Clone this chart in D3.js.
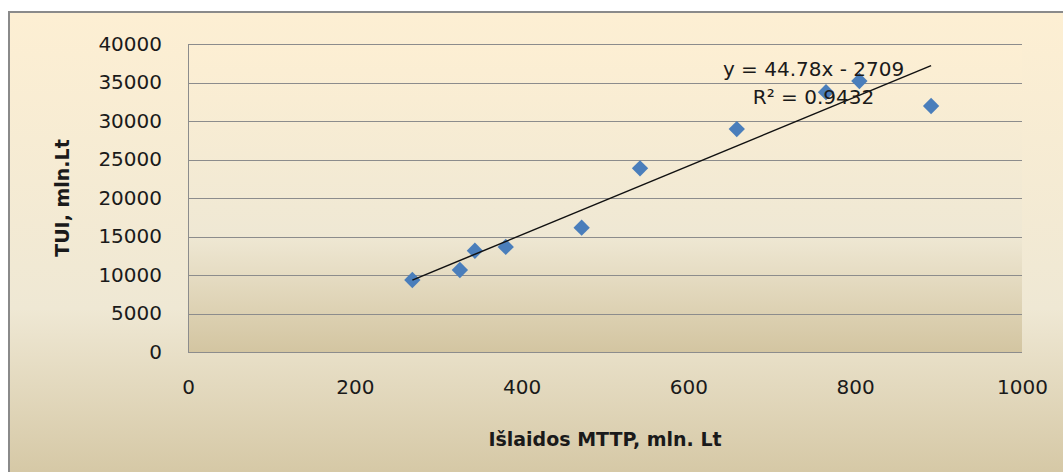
<!DOCTYPE html>
<html>
<head>
<meta charset="utf-8">
<script src="https://cdn.jsdelivr.net/npm/d3@7"></script>
<style>
  body { margin: 0; background: #fff; }
  text { font-family: "DejaVu Sans", sans-serif; fill: #1a1a1a; }
</style>
</head>
<body>
<div id="okvir"></div>
<script>
// podaci
const islaidos = [269, 326, 344, 381, 472, 542, 658, 765, 805, 891]
const tui = [9350, 10650, 13150, 13650, 16150, 23850, 28950, 33750, 35200, 31950]
const xTicks = [0, 200, 400, 600, 800, 1000]
const yTicks = [0, 5000, 10000, 15000, 20000, 25000, 30000, 35000, 40000]
const trend = { slope: 44.78, intercept: -2709, r2: "0.9432" }

const dataset = islaidos.map((x, i) => ({ x: x, y: tui[i] }))

let dimenzije = {
  sirina: 1063,
  visina: 472,
  margine: { top: 44, right: 41, bottom: 120, left: 188 },
}
dimenzije.grSirina = dimenzije.sirina - dimenzije.margine.left - dimenzije.margine.right
dimenzije.grVisina = dimenzije.visina - dimenzije.margine.top - dimenzije.margine.bottom

const okvir = d3.select("#okvir")
  .append("svg")
    .attr("width", dimenzije.sirina)
    .attr("height", dimenzije.visina)

// gradijenti (pergament)
const defs = okvir.append("defs")
function gradijent(id) {
  const g = defs.append("linearGradient")
    .attr("id", id)
    .attr("x1", 0).attr("y1", 0).attr("x2", 0).attr("y2", 1)
  g.append("stop").attr("offset", "0%").attr("stop-color", "#fdefd3")
  g.append("stop").attr("offset", "62%").attr("stop-color", "#efe8d4")
  g.append("stop").attr("offset", "100%").attr("stop-color", "#d3c5a1")
}
gradijent("pozadina")
gradijent("podrucje")

// okvir grafikona
okvir.append("rect")
  .attr("x", 9).attr("y", 12)
  .attr("width", dimenzije.sirina)
  .attr("height", dimenzije.visina + 6)
  .attr("fill", "url(#pozadina)")
okvir.append("path")
  .attr("d", `M9,${dimenzije.visina} V12 H${dimenzije.sirina}`)
  .attr("fill", "none")
  .attr("stroke", "#8a8a8a")
  .attr("stroke-width", 2)

const granice = okvir.append("g")
  .attr("transform", `translate(${dimenzije.margine.left},${dimenzije.margine.top})`)

granice.append("rect")
  .attr("width", dimenzije.grSirina)
  .attr("height", dimenzije.grVisina)
  .attr("fill", "url(#podrucje)")

// skale
const xSkala = d3.scaleLinear()
  .domain([0, 1000])
  .range([0, dimenzije.grSirina])

const ySkala = d3.scaleLinear()
  .domain([0, 40000])
  .range([dimenzije.grVisina, 0])

// mreza
granice.append("g")
  .selectAll("line")
  .data(yTicks)
  .join("line")
    .attr("x1", 0)
    .attr("x2", dimenzije.grSirina)
    .attr("y1", d => Math.round(ySkala(d)) + 0.5)
    .attr("y2", d => Math.round(ySkala(d)) + 0.5)
    .attr("stroke", "#8c8c8c")
    .attr("stroke-width", 1)

granice.append("line")
  .attr("x1", 0.5).attr("x2", 0.5)
  .attr("y1", 0).attr("y2", dimenzije.grVisina)
  .attr("stroke", "#8c8c8c")

// osi
const yOs = granice.append("g")
  .call(d3.axisLeft(ySkala).tickValues(yTicks).tickSize(0).tickPadding(26).tickFormat(d3.format("d")))
yOs.select(".domain").remove()
yOs.selectAll("text")
  .style("font-size", "20px")
  .style("font-family", "DejaVu Sans, sans-serif")
  .attr("fill", "#1a1a1a")

const xOs = granice.append("g")
  .attr("transform", `translate(0,${dimenzije.grVisina})`)
  .call(d3.axisBottom(xSkala).tickValues(xTicks).tickSize(0).tickPadding(28).tickFormat(d3.format("d")))
xOs.select(".domain").remove()
xOs.selectAll("text")
  .style("font-size", "20px")
  .style("font-family", "DejaVu Sans, sans-serif")
  .attr("fill", "#1a1a1a")

// oznake osi
granice.append("text")
  .attr("x", dimenzije.grSirina / 2)
  .attr("y", dimenzije.grVisina + 94)
  .attr("text-anchor", "middle")
  .style("font-size", "19px")
  .style("font-weight", "bold")
  .text("Išlaidos MTTP, mln. Lt")

granice.append("text")
  .attr("transform", `translate(${62 - dimenzije.margine.left + 7},${dimenzije.grVisina / 2}) rotate(-90)`)
  .attr("text-anchor", "middle")
  .style("font-size", "19px")
  .style("font-weight", "bold")
  .text("TUI, mln.Lt")

// tocke (rombovi)
const romb = d3.symbol().type(d3.symbolDiamond2).size(170)
granice.selectAll(".tocka")
  .data(dataset)
  .join("path")
    .attr("class", "tocka")
    .attr("d", romb)
    .attr("transform", d => `translate(${xSkala(d.x)},${ySkala(d.y)})`)
    .attr("fill", "#4a7ebb")

// linija trenda
const xMin = d3.min(islaidos)
const xMax = d3.max(islaidos)
granice.append("line")
  .attr("x1", xSkala(xMin))
  .attr("y1", ySkala(trend.slope * xMin + trend.intercept))
  .attr("x2", xSkala(xMax))
  .attr("y2", ySkala(trend.slope * xMax + trend.intercept))
  .attr("stroke", "#111")
  .attr("stroke-width", 1.5)

// jednadzba
const jx = xSkala(750)
granice.append("text")
  .attr("x", jx)
  .attr("y", ySkala(35800))
  .attr("text-anchor", "middle")
  .style("font-size", "20px")
  .text(`y = ${trend.slope}x - ${-trend.intercept}`)

granice.append("text")
  .attr("x", jx)
  .attr("y", ySkala(32200))
  .attr("text-anchor", "middle")
  .style("font-size", "20px")
  .text(`R² = ${trend.r2}`)
</script>
</body>
</html>
